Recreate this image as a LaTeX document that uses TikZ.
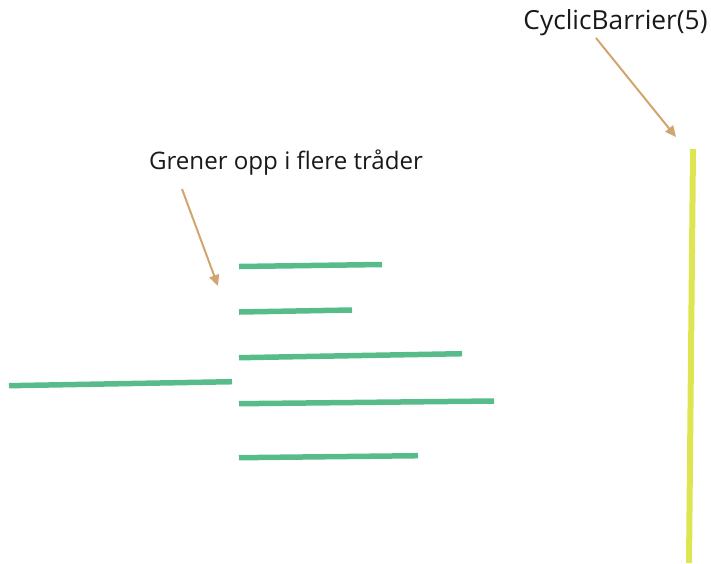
\documentclass[tikz,border=0pt]{standalone}
\usepackage{fontspec}
\setmainfont{Open Sans}
\usetikzlibrary{arrows.meta}
\definecolor{thread}{RGB}{88,187,138}
\definecolor{barrier}{RGB}{221,230,80}
\definecolor{pointer}{RGB}{210,165,110}
\tikzset{
  threadline/.style={draw=thread, line width=5.5pt},
  barrierline/.style={draw=barrier, line width=6pt},
  pointerarrow/.style={draw=pointer, line width=2pt, -{Triangle[length=11pt,width=10pt]}},
  labeltext/.style={text=black!90, anchor=base, inner sep=0pt}
}
\begin{document}
\begin{tikzpicture}[x=1pt,y=-1pt]
\useasboundingbox (0,0) rectangle (711,563);
% labels
\node[labeltext, font=\fontsize{26.3}{30}\selectfont] (cb) at (615.5,29) {CyclicBarrier(5)};
\node[labeltext, font=\fontsize{24.1}{28}\selectfont] (gr) at (286,169) {Grener opp i flere tråder};
% arrow coordinates
\coordinate (cbstart) at (596,38);
\coordinate (cbend) at (676,137);
\coordinate (grstart) at (182,189);
\coordinate (grend) at (218,286);
\draw[pointerarrow] (cbstart) -- (cbend);
\draw[pointerarrow] (grstart) -- (grend);
% main thread
\coordinate (m0) at (9,385.7);
\coordinate (m1) at (232,381.7);
\draw[threadline] (m0) -- (m1);
% branches
\coordinate (a0) at (239,266.5); \coordinate (a1) at (382,264.5);
\coordinate (b0) at (239,312); \coordinate (b1) at (352,310);
\coordinate (c0) at (239,357.7); \coordinate (c1) at (462,353.7);
\coordinate (d0) at (239,403.7); \coordinate (d1) at (494,401);
\coordinate (e0) at (239,457.7); \coordinate (e1) at (418,455.7);
\draw[threadline] (a0) -- (a1);
\draw[threadline] (b0) -- (b1);
\draw[threadline] (c0) -- (c1);
\draw[threadline] (d0) -- (d1);
\draw[threadline] (e0) -- (e1);
% barrier
\coordinate (y0) at (693,149);
\coordinate (y1) at (689,563);
\draw[barrierline] (y0) -- (y1);
\end{tikzpicture}
\end{document}
